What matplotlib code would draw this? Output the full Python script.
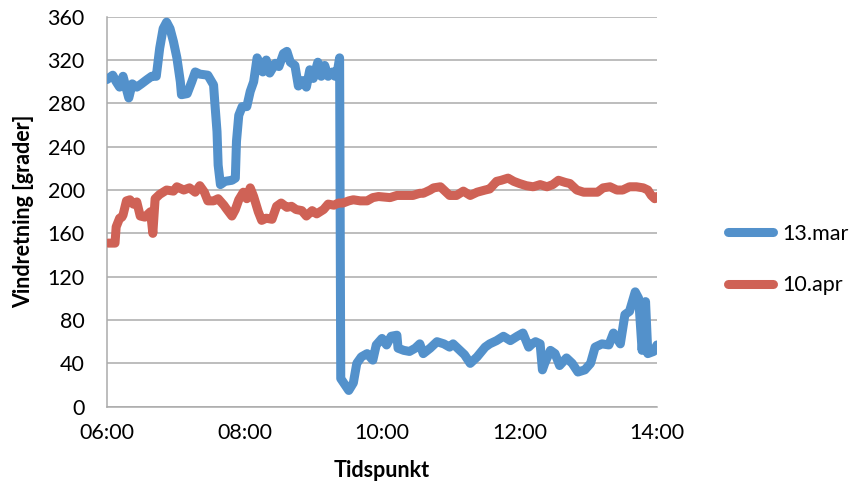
import matplotlib
matplotlib.use("Agg")
import matplotlib.pyplot as plt
import numpy as np

plt.rcParams['font.family'] = ['Lato', 'DejaVu Sans']

# minutes after 06:00 and wind direction (degrees)
mar_minutes = [0, 5, 8, 11, 14, 19, 22, 26, 30, 35, 39, 43, 46, 49, 52, 55, 58, 61, 64, 65,
               70, 74, 77, 81, 88, 93, 94, 96, 97, 99, 103, 109, 112, 113, 115, 118, 122, 125,
               128, 131, 134, 136, 139, 142, 147, 150, 154, 157, 160, 164, 167, 171, 174, 177,
               180, 184, 187, 190, 193, 197, 199, 201, 203, 204, 211, 215, 218, 222, 227, 232,
               235, 240, 244, 248, 253, 254, 259, 264, 269, 273, 276, 282, 288, 294, 299, 302,
               308, 312, 317, 323, 330, 334, 340, 346, 352, 358, 363, 368, 371, 374, 378, 380,
               382, 387, 391, 395, 401, 406, 411, 417, 422, 426, 432, 438, 442, 448, 452, 456,
               461, 464, 467, 470, 472, 477, 480]
mar_values = [302, 306, 300, 295, 305, 285, 298, 295, 298, 302, 305, 305, 331, 349, 355, 349, 337,
              322, 300, 288, 289, 300, 309, 307, 306, 297, 282, 254, 223, 205, 208, 209, 211, 245,
              269, 277, 277, 291, 300, 322, 315, 309, 320, 308, 317, 314, 326, 328, 318, 315, 296,
              301, 295, 311, 303, 318, 305, 315, 305, 309, 305, 309, 322, 26, 15, 22, 40, 46, 49,
              43, 57, 63, 57, 65, 66, 54, 52, 51, 54, 58, 49, 54, 60, 58, 55, 58, 52, 48, 40, 46,
              55, 58, 61, 65, 61, 65, 68, 55, 58, 60, 58, 34, 40, 52, 49, 38, 45, 40, 32, 34, 40,
              55, 58, 57, 68, 58, 85, 88, 106, 100, 52, 97, 49, 51, 57]

apr_minutes = [1, 7, 8, 11, 13, 14, 17, 20, 23, 26, 29, 33, 38, 40, 42, 46, 52, 58, 61, 67, 72,
               77, 81, 85, 88, 93, 97, 102, 104, 109, 112, 115, 119, 122, 125, 128, 132, 135, 139,
               144, 148, 152, 157, 161, 165, 170, 174, 179, 183, 189, 193, 198, 202, 206, 211, 215,
               221, 227, 232, 237, 247, 253, 259, 264, 267, 273, 276, 282, 285, 291, 299, 305, 311,
               317, 323, 330, 334, 340, 344, 350, 355, 360, 366, 372, 378, 384, 389, 394, 400, 404,
               410, 416, 422, 428, 433, 439, 445, 450, 456, 462, 468, 472, 475, 478, 480]
apr_values = [151, 151, 166, 174, 175, 177, 190, 191, 187, 189, 176, 175, 180, 160, 192, 196, 200,
              199, 203, 200, 202, 198, 204, 198, 190, 190, 192, 186, 183, 176, 182, 191, 198, 192,
              202, 194, 180, 172, 174, 173, 185, 188, 184, 185, 182, 181, 176, 181, 178, 182, 187,
              186, 188, 188, 190, 191, 190, 190, 193, 194, 193, 195, 195, 195, 195, 197, 197, 200,
              202, 203, 195, 195, 199, 195, 198, 200, 201, 208, 209, 211, 208, 206, 204, 203, 205,
              203, 205, 209, 207, 206, 200, 198, 198, 198, 202, 203, 200, 200, 203, 203, 202, 200,
              195, 192, 194]

series_labels = ["13.mar", "10.apr"]
series_colors = ["#5391CB", "#CF6256"]

x_ticks = [6, 8, 10, 12, 14]
x_tick_labels = ["06:00", "08:00", "10:00", "12:00", "14:00"]
y_ticks = list(range(0, 361, 40))

fig = plt.figure(figsize=(8.59, 4.93), dpi=100)
ax = fig.add_axes([107 / 859, 1 - 406.7 / 493, 550 / 859, (406.7 - 16.7) / 493])

for mins, vals, lab, col in [(mar_minutes, mar_values, series_labels[0], series_colors[0]),
                             (apr_minutes, apr_values, series_labels[1], series_colors[1])]:
    ax.plot(6 + np.array(mins) / 60.0, vals, color=col, lw=6.5, label=lab,
            solid_capstyle='round', solid_joinstyle='round', zorder=3)

ax.set_xlim(6, 14)
ax.set_ylim(0, 360)
ax.set_xticks(x_ticks)
ax.set_xticklabels(x_tick_labels)
ax.set_yticks(y_ticks)
ax.yaxis.grid(True, color="#ABABAB", lw=1.1)
ax.set_axisbelow(True)
for s in ["top", "right"]:
    ax.spines[s].set_visible(False)
for s in ["left", "bottom"]:
    ax.spines[s].set_color("#ABABAB")
    ax.spines[s].set_linewidth(1.1)
ax.tick_params(axis='both', length=0, labelsize=15.5, colors="#000000")
ax.tick_params(axis='y', pad=16)
ax.tick_params(axis='x', pad=12)

ax.set_xlabel("Tidspunkt", fontsize=15.5, fontweight='bold', labelpad=12)
ax.set_ylabel("Vindretning [grader]", fontsize=15.5, fontweight='bold', labelpad=10)

fig.legend(loc='center left', bbox_to_anchor=(728 / 859, 1 - 259.5 / 493), frameon=False,
           fontsize=15.5, handlelength=2.1, handletextpad=0.4, labelspacing=1.45,
           borderpad=0, borderaxespad=0)

fig.savefig("out.png", dpi=100)
